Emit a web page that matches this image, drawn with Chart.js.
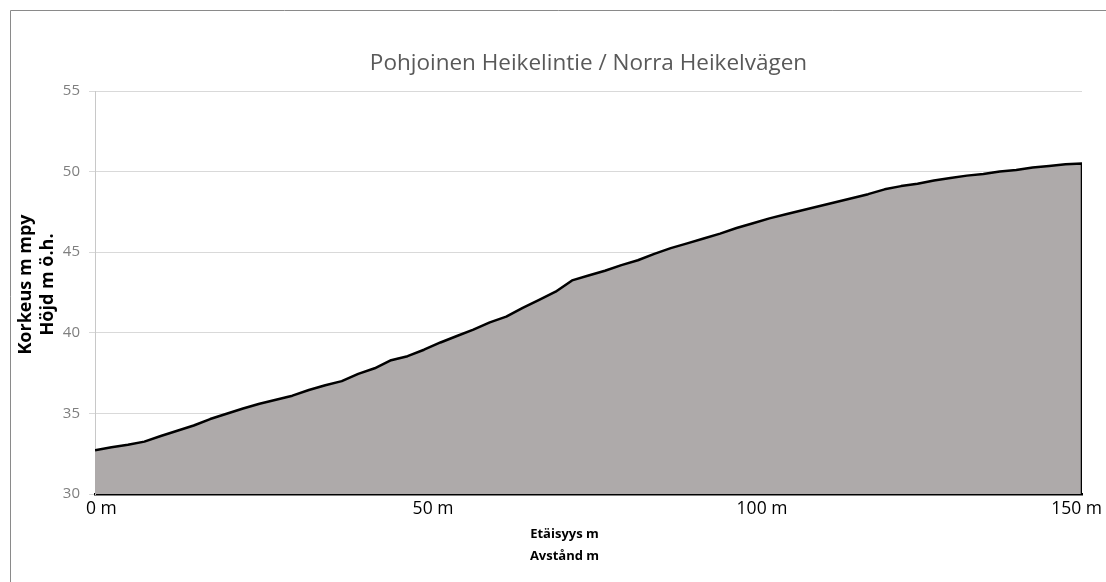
<!DOCTYPE html>
<html>
<head>
<meta charset="utf-8">
<script src="https://cdn.jsdelivr.net/npm/chart.js@4.4.1/dist/chart.umd.min.js"></script>
<style>
  html, body { margin: 0; padding: 0; background: #ffffff; }
  #wrap { width: 1106px; height: 582px; position: relative; }
</style>
</head>
<body>
<div id="wrap"><canvas id="c" width="1106" height="582"></canvas></div>
<script>
// ---- data ----
const chartTitle = "Pohjoinen Heikelintie / Norra Heikelvägen";
const xTitleLines = ["Etäisyys m", "Avstånd m"];
const yTitleLines = ["Korkeus m mpy", "Höjd m ö.h."];
const distances = [0, 2.5, 5, 7.5, 10, 12.5, 15, 17.5, 20, 22.5, 25, 27.5, 30, 32.5, 35, 37.5, 40, 42.5, 45, 47.5,
  50, 52.5, 55, 57.5, 60, 62.5, 65, 67.5, 70, 72.5, 75, 77.5, 80, 82.5, 85, 87.5, 90, 92.5, 95, 97.5,
  100, 102.5, 105, 107.5, 110, 112.5, 115, 117.5, 120, 122.5, 125, 127.5, 130, 132.5, 135, 137.5, 140, 142.5, 145, 147.5, 150];
const elevations = [32.72, 32.9, 33.05, 33.25, 33.6, 33.92, 34.25, 34.65, 34.98, 35.3, 35.6, 35.85, 36.1, 36.45, 36.75, 37.0, 37.45, 37.8, 38.3, 38.55,
  38.95, 39.4, 39.8, 40.2, 40.65, 41.0, 41.55, 42.05, 42.55, 43.25, 43.55, 43.85, 44.2, 44.5, 44.9, 45.25, 45.55, 45.85, 46.15, 46.5,
  46.8, 47.1, 47.35, 47.6, 47.85, 48.1, 48.35, 48.6, 48.9, 49.1, 49.25, 49.45, 49.6, 49.75, 49.85, 50.0, 50.1, 50.25, 50.35, 50.45, 50.5];
const xTicks = [0, 50, 100, 150];
const xTickLabels = ["0 m", "50 m", "100 m", "150 m"];
const yTicks = [30, 35, 40, 45, 50, 55];

const yMin = yTicks[0], yMax = yTicks[yTicks.length - 1];
const points = distances.map((d, i) => ({ x: d, y: elevations[i] }));
// close the outline down the right edge to the axis floor
points.push({ x: distances[distances.length - 1], y: yMin });

const frame = {
  id: 'frame',
  beforeDraw(chart) {
    const ctx = chart.ctx;
    ctx.save();
    ctx.strokeStyle = '#8a8a8a';
    ctx.lineWidth = 1;
    ctx.beginPath();
    ctx.moveTo(10.5, 582);
    ctx.lineTo(10.5, 10.5);
    ctx.lineTo(1106, 10.5);
    ctx.stroke();
    ctx.restore();
  }
};

const texts = {
  id: 'texts',
  afterDraw(chart) {
    const ctx = chart.ctx, a = chart.chartArea;
    const xs = chart.scales.x;
    ctx.save();
    // chart title
    ctx.fillStyle = '#595959';
    ctx.font = '22.5px "Open Sans"';
    ctx.textAlign = 'center';
    ctx.textBaseline = 'alphabetic';
    ctx.fillText(chartTitle, (a.left + a.right) / 2, 69.5);

    // x tick labels
    ctx.fillStyle = '#000000';
    ctx.font = '17.5px "Open Sans"';
    const last = xTicks.length - 1;
    xTicks.forEach((v, i) => {
      const px = xs.getPixelForValue(v);
      if (i === 0) { ctx.textAlign = 'left'; ctx.fillText(xTickLabels[i], px - 9, a.bottom + 20); }
      else if (i === last) { ctx.textAlign = 'right'; ctx.fillText(xTickLabels[i], px + 20, a.bottom + 20); }
      else { ctx.textAlign = 'center'; ctx.fillText(xTickLabels[i], px + 9, a.bottom + 20); }
    });

    // axis titles
    ctx.textAlign = 'center';
    ctx.textBaseline = 'middle';
    ctx.font = 'bold 13px "Open Sans"';
    const cx = (a.left + a.right) / 2 - 24;
    xTitleLines.forEach((t, i) => ctx.fillText(t, cx, a.bottom + 40 + i * 22));
    ctx.font = 'bold 18px "Open Sans"';
    const cy = (a.top + a.bottom) / 2 - 8;
    yTitleLines.forEach((t, i) => {
      ctx.save();
      ctx.translate(26 + i * 21.5, cy);
      ctx.rotate(-Math.PI / 2);
      ctx.fillText(t, 0, 0);
      ctx.restore();
    });
    ctx.restore();
  }
};

new Chart(document.getElementById('c'), {
  type: 'line',
  data: {
    datasets: [{
      data: points,
      borderColor: '#000000',
      borderWidth: 2.5,
      backgroundColor: '#aeaaaa',
      fill: 'start',
      tension: 0,
      pointRadius: 0,
      borderJoinStyle: 'round'
    }]
  },
  options: {
    responsive: false,
    animation: false,
    events: [],
    layout: { padding: { left: 0, right: 24, top: 91, bottom: 0 } },
    plugins: {
      legend: { display: false },
      tooltip: { enabled: false },
      title: { display: false }
    },
    scales: {
      x: {
        type: 'linear',
        min: xTicks[0],
        max: xTicks[xTicks.length - 1],
        afterBuildTicks: s => { s.ticks = xTicks.map(v => ({ value: v })); },
        afterFit: s => { s.height = 88; },
        grid: { display: false, drawTicks: false },
        border: { display: true, color: '#000000', width: 2.5 },
        ticks: { display: false }
      },
      y: {
        type: 'linear',
        min: yMin,
        max: yMax,
        afterBuildTicks: s => { s.ticks = yTicks.map(v => ({ value: v })); },
        afterFit: s => { s.width = 95; },
        grid: { color: '#d9d9d9', lineWidth: 1, tickLength: 6, drawTicks: true },
        border: { display: true, color: '#c8c8c8', width: 1 },
        ticks: {
          color: '#7f7f7f',
          font: { family: '"Open Sans"', size: 15 },
          padding: 9
        }
      }
    }
  },
  plugins: [frame, texts]
});
</script>
</body>
</html>
